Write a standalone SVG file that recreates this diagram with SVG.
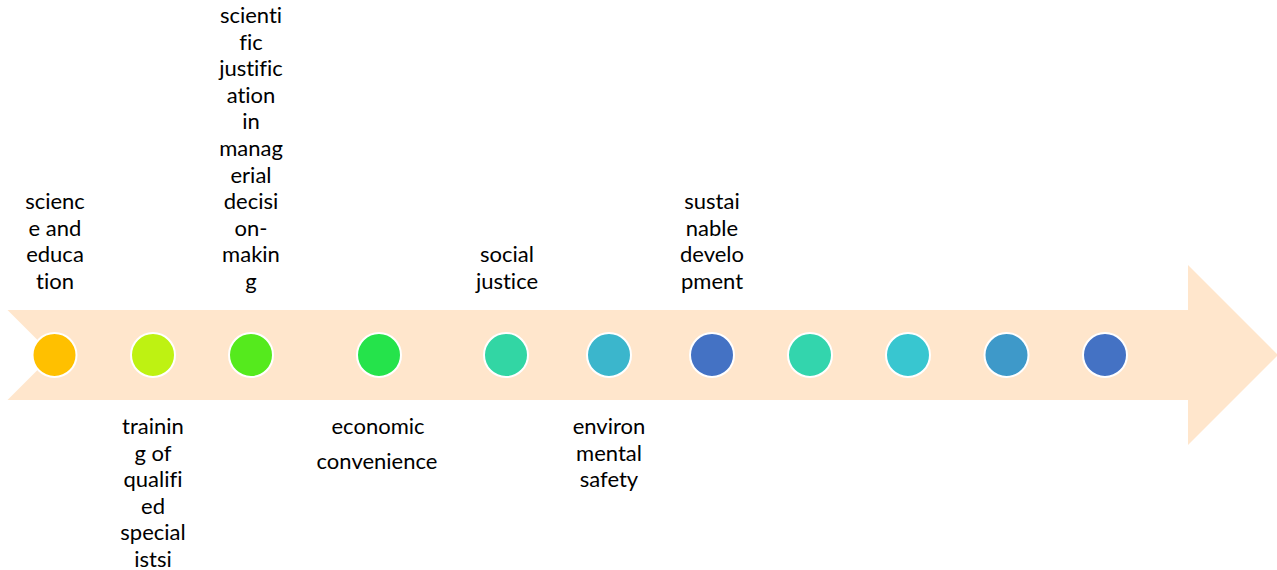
<svg xmlns="http://www.w3.org/2000/svg" width="1277" height="570" viewBox="0 0 1277 570">
<style>
.lbl{font-family:Lato,"Liberation Sans",sans-serif;font-size:22px;fill:#000;text-anchor:middle;font-variant-ligatures:none;font-feature-settings:"liga" 0,"clig" 0}
.dot{stroke:#fff;stroke-width:2}
</style>
<rect width="1277" height="570" fill="#fff"/>
<g id="arrow">
<path d="M7.5 310 L1188 310 L1188 265 L1278 355 L1188 445 L1188 400 L7.5 400 L52.5 355 Z" fill="#FFE6CC"/>
</g>
<g id="connectors"></g>
<g id="n1"><circle class="dot" cx="54.5" cy="355" r="22" fill="#FFC000"/>
<text class="lbl"><tspan x="55" y="209">scienc</tspan><tspan x="55" dy="26.6">e and</tspan><tspan x="55" dy="26.6">educa</tspan><tspan x="55" dy="26.6">tion</tspan></text></g>
<g id="n2"><circle class="dot" cx="153" cy="355" r="22" fill="#BEF212"/>
<text class="lbl"><tspan x="153" y="434">trainin</tspan><tspan x="153" dy="26.6">g of</tspan><tspan x="153" dy="26.6">qualifi</tspan><tspan x="153" dy="26.6">ed</tspan><tspan x="153" dy="26.6">special</tspan><tspan x="153" dy="26.6">istsi</tspan></text></g>
<g id="n3"><circle class="dot" cx="251" cy="355" r="22" fill="#55EA1D"/>
<text class="lbl"><tspan x="251" y="23">scienti</tspan><tspan x="251" dy="26.6">fic</tspan><tspan x="251" dy="26.6">justific</tspan><tspan x="251" dy="26.6">ation</tspan><tspan x="251" dy="26.6">in</tspan><tspan x="251" dy="26.6">manag</tspan><tspan x="251" dy="26.6">erial</tspan><tspan x="251" dy="26.6">decisi</tspan><tspan x="251" dy="26.6">on-</tspan><tspan x="251" dy="26.6">makin</tspan><tspan x="251" dy="26.6">g</tspan></text></g>
<g id="n4"><circle class="dot" cx="379" cy="355" r="22" fill="#25E34B"/>
<text class="lbl"><tspan x="378" y="434">economic</tspan><tspan x="377" y="469">convenience</tspan></text></g>
<g id="n5"><circle class="dot" cx="506" cy="355" r="22" fill="#32D6A4"/>
<text class="lbl"><tspan x="507" y="262.4">social</tspan><tspan x="507" dy="26.6">justice</tspan></text></g>
<g id="n6"><circle class="dot" cx="609" cy="355" r="22" fill="#3BB6CC"/>
<text class="lbl"><tspan x="609" y="434">environ</tspan><tspan x="609" dy="26.6">mental</tspan><tspan x="609" dy="26.6">safety</tspan></text></g>
<g id="n7"><circle class="dot" cx="712" cy="355" r="22" fill="#4472C4"/>
<text class="lbl"><tspan x="712" y="209.2">sustai</tspan><tspan x="712" dy="26.6">nable</tspan><tspan x="712" dy="26.6">develo</tspan><tspan x="712" dy="26.6">pment</tspan></text></g>
<g id="n8"><circle class="dot" cx="810" cy="355" r="22" fill="#33D5AD"/></g>
<g id="n9"><circle class="dot" cx="908" cy="355" r="22" fill="#38C6D0"/></g>
<g id="n10"><circle class="dot" cx="1006.5" cy="355" r="22" fill="#3E99C9"/></g>
<g id="n11"><circle class="dot" cx="1105" cy="355" r="22" fill="#4472C4"/></g>
</svg>
